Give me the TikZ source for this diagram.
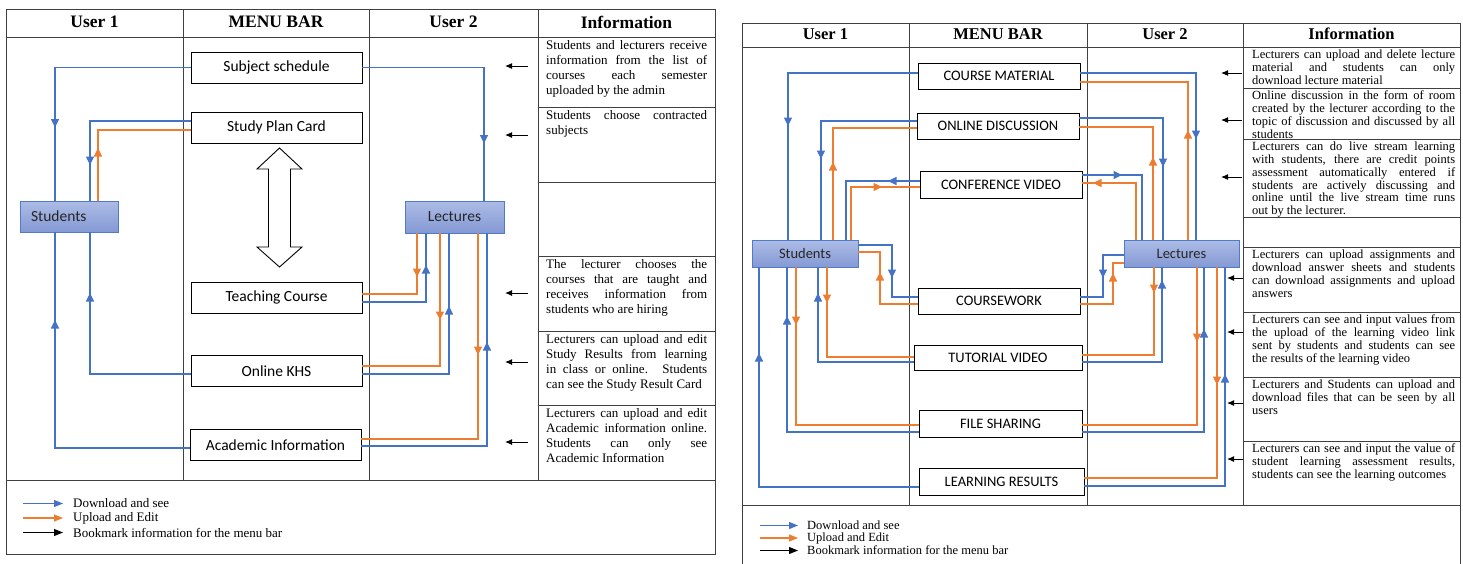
\documentclass[tikz,border=0pt]{standalone}
\usepackage{fontspec}
\setmainfont{Liberation Serif}
\newfontfamily\calibrifont{Carlito}
\usetikzlibrary{arrows.meta,decorations.markings}
\definecolor{cblue}{HTML}{4472C4}
\definecolor{corange}{HTML}{ED7D31}
\definecolor{tblc}{HTML}{404040}
\definecolor{utop}{HTML}{ADBCE6}
\definecolor{ubot}{HTML}{8499D4}
\definecolor{ubord}{HTML}{4F7BC9}
\begin{document}
\begin{tikzpicture}[x=1pt,y=-1pt,
  tbl/.style={draw=tblc,line width=1pt},
  mboxL/.style={draw=black,line width=0.9pt,fill=white,inner sep=0pt,outer sep=0pt,minimum width=171pt,minimum height=31pt,font=\calibrifont\fontsize{15.5pt}{18pt}\selectfont},
  mboxR/.style={draw=black,line width=0.9pt,fill=white,inner sep=0pt,outer sep=0pt,minimum width=162pt,minimum height=26pt,font=\calibrifont\fontsize{14.5pt}{17pt}\selectfont},
  ubox/.style={draw=ubord,line width=0.9pt,top color=utop,bottom color=ubot,inner sep=0pt,outer sep=0pt,text=black!85},
  hdrL/.style={font=\bfseries\fontsize{17.5pt}{20pt}\selectfont,inner sep=0pt},
  hdrR/.style={font=\bfseries\fontsize{16.5pt}{19pt}\selectfont,inner sep=0pt},
  infoL/.style={anchor=north west,inner sep=0pt,text width=161pt,align=justify,font=\fontsize{13pt}{15pt}\selectfont},
  infoR/.style={anchor=north west,inner sep=0pt,text width=203pt,align=justify,font=\fontsize{12.5pt}{12.9pt}\selectfont},
  legL/.style={anchor=west,inner sep=0pt,font=\fontsize{13pt}{15pt}\selectfont},
  legR/.style={anchor=west,inner sep=0pt,font=\fontsize{12.5pt}{14pt}\selectfont},
  bl/.style={color=cblue,line width=1.1pt},
  orr/.style={color=corange,line width=1.1pt},
  bk/.style={color=black,line width=1pt,-{Latex[length=7pt,width=6pt]}},
  ltip/.style={-{Triangle[length=9pt,width=7pt]}},
  am/.style={postaction={decorate,decoration={markings,mark=at position #1 with {\arrow{Triangle[length=8.5pt,width=8pt]}}}}}
]
\useasboundingbox[fill=white] (0,0) rectangle (1463,563);

%================ LEFT DIAGRAM =================
\draw[tbl] (6,9) rectangle (715,554);
\draw[tbl] (6,37) -- (715,37);
\draw[tbl] (6,480) -- (715,480);
\foreach \x in {183,369,538} \draw[tbl] (\x,9) -- (\x,480);
\foreach \y in {107,182,256,331,405} \draw[tbl] (538,\y) -- (715,\y);

\node[hdrL] (hl1) at (94.5,22) {User 1};
\node[hdrL] (hl2) at (276,22) {MENU BAR};
\node[hdrL] (hl3) at (453.5,22) {User 2};
\node[hdrL] (hl4) at (626.5,22) {Information};

\node[mboxL] (ss) at (276.5,67.5) {Subject schedule};
\node[mboxL] (spc) at (276.5,127.5) {Study Plan Card};
\node[mboxL] (tc) at (276.5,297.5) {Teaching Course};
\node[mboxL] (khs) at (276.5,371) {Online KHS};
\node[mboxL] (ai) at (275.5,445) {Academic Information};
\node[ubox,minimum width=98pt,minimum height=31pt,text width=76pt,inner xsep=11pt,align=left,font=\calibrifont\fontsize{15.5pt}{18pt}\selectfont] (stu1) at (69,216.5) {Students};
\node[ubox,minimum width=99pt,minimum height=32pt,font=\calibrifont\fontsize{15.5pt}{18pt}\selectfont] (lec1) at (454.5,217) {Lectures};

\draw[line width=0.9pt,fill=white] (279.5,148) -- (302,169) -- (290.5,169) -- (290.5,247) -- (302,247) -- (279.5,267) -- (257,247) -- (268.5,247) -- (268.5,169) -- (257,169) -- cycle;

\draw[bl,am=196pt] (ss.west) -| (stu1.north -| 55,0);
\draw[bl,am=198pt] (ss.east) -| (lec1.north -| 484,0);
\draw[bl,am=145pt] (spc.west |- 0,121) -| (stu1.north -| 90,0);
\draw[orr,am=53pt] (stu1.north -| 98,0) |- (spc.west |- 0,130);
\draw[bl,am=263pt] (ai.west |- 0,448) -| (stu1.south -| 55,0);
\draw[bl,am=182pt] (khs.west |- 0,374) -| (stu1.south -| 90,0);
\draw[orr,am=44pt] (lec1.south -| 417,0) |- (tc.east |- 0,294);
\draw[bl,am=101pt] (tc.east |- 0,302) -| (lec1.south -| 426,0);
\draw[orr,am=87pt] (lec1.south -| 440,0) |- (khs.east |- 0,366);
\draw[bl,am=155pt] (khs.east |- 0,374) -| (lec1.south -| 449,0);
\draw[orr,am=122pt] (lec1.south -| 478,0) |- (ai.east |- 0,439);
\draw[bl,am=230pt] (ai.east |- 0,446) -| (lec1.south -| 487,0);

\node[infoL] (il1) at (546,40) {Students and lecturers receive\linebreak information from the list of\linebreak courses each semester\linebreak uploaded by the admin};
\node[infoL] (il2) at (546,110) {Students choose contracted\linebreak subjects};
\node[infoL] (il4) at (546,259) {The lecturer chooses the\linebreak courses that are taught and\linebreak receives information from\linebreak students who are hiring};
\node[infoL] (il5) at (546,334) {Lecturers can upload and edit\linebreak Study Results from learning\linebreak in class or online. Students\linebreak can see the Study Result Card};
\node[infoL] (il6) at (546,408) {Lecturers can upload and edit\linebreak Academic information online.\linebreak Students can only see\linebreak Academic Information};

\foreach \y [count=\i] in {66,135,293,362,442} {
  \coordinate (bkl\i s) at (528,\y); \coordinate (bkl\i e) at (505,\y);
  \draw[bk] (bkl\i s) -- (bkl\i e);
}

\coordinate (lgl1s) at (23,503.5); \coordinate (lgl1e) at (63,503.5);
\coordinate (lgl2s) at (23,518); \coordinate (lgl2e) at (63,518);
\coordinate (lgl3s) at (23,532.5); \coordinate (lgl3e) at (63,532.5);
\draw[bl,ltip] (lgl1s) -- (lgl1e);
\draw[orr,ltip] (lgl2s) -- (lgl2e);
\draw[black,line width=1pt,ltip] (lgl3s) -- (lgl3e);
\node[legL] (ll1) at (73,503.5) {Download and see};
\node[legL] (ll2) at (73,518) {Upload and Edit};
\node[legL] (ll3) at (73,532.5) {Bookmark information for the menu bar};

%================ RIGHT DIAGRAM =================
\draw[tbl] (742,570) -- (742,23) -- (1460,23) -- (1460,570);
\draw[tbl] (742,47) -- (1460,47);
\draw[tbl] (742,505) -- (1460,505);
\foreach \x in {909,1087,1243} \draw[tbl] (\x,23) -- (\x,505);
\foreach \y in {88,139,217,247,312,377,441} \draw[tbl] (1243,\y) -- (1460,\y);

\node[hdrR] (hr1) at (825.5,34) {User 1};
\node[hdrR] (hr2) at (998,34) {MENU BAR};
\node[hdrR] (hr3) at (1165,34) {User 2};
\node[hdrR] (hr4) at (1351.5,34) {Information};

\node[mboxR] (cm) at (999,76) {COURSE MATERIAL};
\node[mboxR] (od) at (998,126) {ONLINE DISCUSSION};
\node[mboxR,minimum height=27pt] (cv) at (1001,184.5) {CONFERENCE VIDEO};
\node[mboxR] (cw) at (999,301) {COURSEWORK};
\node[mboxR,minimum width=168pt,minimum height=25pt] (tv) at (998,357.5) {TUTORIAL VIDEO};
\node[mboxR,minimum width=163pt,minimum height=27pt] (fs) at (1000.5,423.5) {FILE SHARING};
\node[mboxR,minimum width=165pt,minimum height=27pt] (lr) at (1001.5,481.5) {LEARNING RESULTS};
\node[ubox,minimum width=106pt,minimum height=27pt,font=\calibrifont\fontsize{14.5pt}{17pt}\selectfont] (stu2) at (805,253.5) {Students};
\node[ubox,minimum width=115pt,minimum height=27pt,font=\calibrifont\fontsize{14.5pt}{17pt}\selectfont] (lec2) at (1181.5,253.5) {Lectures};

% students side
\draw[bl,am=183pt] (cm.west |- 0,73) -| (stu2.north -| 788,0);
\draw[bl,am=134pt] (od.west |- 0,121) -| (stu2.north -| 821,0);
\draw[orr,am=78pt] (stu2.north -| 833,0) |- (od.west |- 0,128);
\draw[bl,am=32pt] (cv.west |- 0,181) -| (stu2.north -| 846,0);
\draw[orr,am=84pt] (stu2.north -| 851,0) |- (cv.west |- 0,187);
\draw[bl,am=67pt] (stu2.east |- 0,245) -- (892,245) |- (cw.west |- 0,297);
\draw[orr,am=70pt] (cw.west |- 0,304) -| (880,252) -- (stu2.east |- 0,252);
\draw[bl,am=294pt] (lr.west |- 0,487) -| (stu2.south -| 759,0);
\draw[bl,am=248pt] (fs.west |- 0,432) -| (stu2.south -| 787,0);
\draw[orr,am=58pt] (stu2.south -| 796,0) |- (fs.west |- 0,425);
\draw[bl,am=165pt] (tv.west |- 0,362) -| (stu2.south -| 818,0);
\draw[orr,am=36pt] (stu2.south -| 827,0) |- (tv.west |- 0,357);
% lecturers side
\draw[bl,am=182pt] (cm.east |- 0,73) -| (lec2.north -| 1196,0);
\draw[orr,am=110pt] (lec2.north -| 1188,0) |- (cm.east |- 0,82);
\draw[bl,am=133pt] (od.east |- 0,118) -| (lec2.north -| 1163,0);
\draw[orr,am=83pt] (lec2.north -| 1153,0) |- (od.east |- 0,127);
\draw[bl,am=40pt] (cv.east |- 0,175) -| (lec2.north -| 1142,0);
\draw[orr,am=100pt] (lec2.north -| 1136,0) |- (cv.east |- 0,183);
\draw[bl,am=44pt] (lec2.west |- 0,255) -| (1103,297) -- (cw.east |- 0,297);
\draw[orr,am=64pt] (cw.east |- 0,304) -| (1113,263) -- (lec2.west |- 0,263);
\draw[orr,am=26pt] (lec2.south -| 1154,0) |- (tv.east |- 0,355);
\draw[bl,am=162pt] (tv.east |- 0,362) -| (lec2.south -| 1162,0);
\draw[orr,am=75pt] (lec2.south -| 1197,0) |- (fs.east |- 0,425);
\draw[bl,am=225pt] (fs.east |- 0,432) -| (lec2.south -| 1204,0);
\draw[orr,am=118pt] (lec2.south -| 1217,0) |- (lr.east |- 0,478);
\draw[bl,am=253pt] (lr.east |- 0,486) -| (lec2.south -| 1225,0);

\node[infoR] (ir1) at (1252,49.5) {Lecturers can upload and delete lecture\linebreak material and students can only\linebreak download lecture material};
\node[infoR] (ir2) at (1252,90.5) {Online discussion in the form of room\linebreak created by the lecturer according to the\linebreak topic of discussion and discussed by all\linebreak students};
\node[infoR] (ir3) at (1252,141.5) {Lecturers can do live stream learning\linebreak with students, there are credit points\linebreak assessment automatically entered if\linebreak students are actively discussing and\linebreak online until the live stream time runs\linebreak out by the lecturer.};
\node[infoR] (ir5) at (1252,249.5) {Lecturers can upload assignments and\linebreak download answer sheets and students\linebreak can download assignments and upload\linebreak answers};
\node[infoR] (ir6) at (1252,314.5) {Lecturers can see and input values from\linebreak the upload of the learning video link\linebreak sent by students and students can see\linebreak the results of the learning video};
\node[infoR] (ir7) at (1252,379.5) {Lecturers and Students can upload and\linebreak download files that can be seen by all\linebreak users};
\node[infoR] (ir8) at (1252,443.5) {Lecturers can see and input the value of\linebreak student learning assessment results,\linebreak students can see the learning outcomes};

\foreach \y [count=\i] in {73,120,177} {
  \coordinate (bkr\i s) at (1242,\y); \coordinate (bkr\i e) at (1221,\y);
  \draw[bk] (bkr\i s) -- (bkr\i e);
}
\foreach \y [count=\i] in {278,332,403,459} {
  \coordinate (bkq\i s) at (1243,\y); \coordinate (bkq\i e) at (1227,\y);
  \draw[bk] (bkq\i s) -- (bkq\i e);
}

\coordinate (lgr1s) at (760,525.5); \coordinate (lgr1e) at (798,525.5);
\coordinate (lgr2s) at (760,538); \coordinate (lgr2e) at (798,538);
\coordinate (lgr3s) at (760,550.5); \coordinate (lgr3e) at (798,550.5);
\draw[bl,ltip] (lgr1s) -- (lgr1e);
\draw[orr,ltip] (lgr2s) -- (lgr2e);
\draw[black,line width=1pt,ltip] (lgr3s) -- (lgr3e);
\node[legR] (lr1) at (807,525.5) {Download and see};
\node[legR] (lr2) at (807,538) {Upload and Edit};
\node[legR] (lr3) at (807,550.5) {Bookmark information for the menu bar};
\end{tikzpicture}
\end{document}
